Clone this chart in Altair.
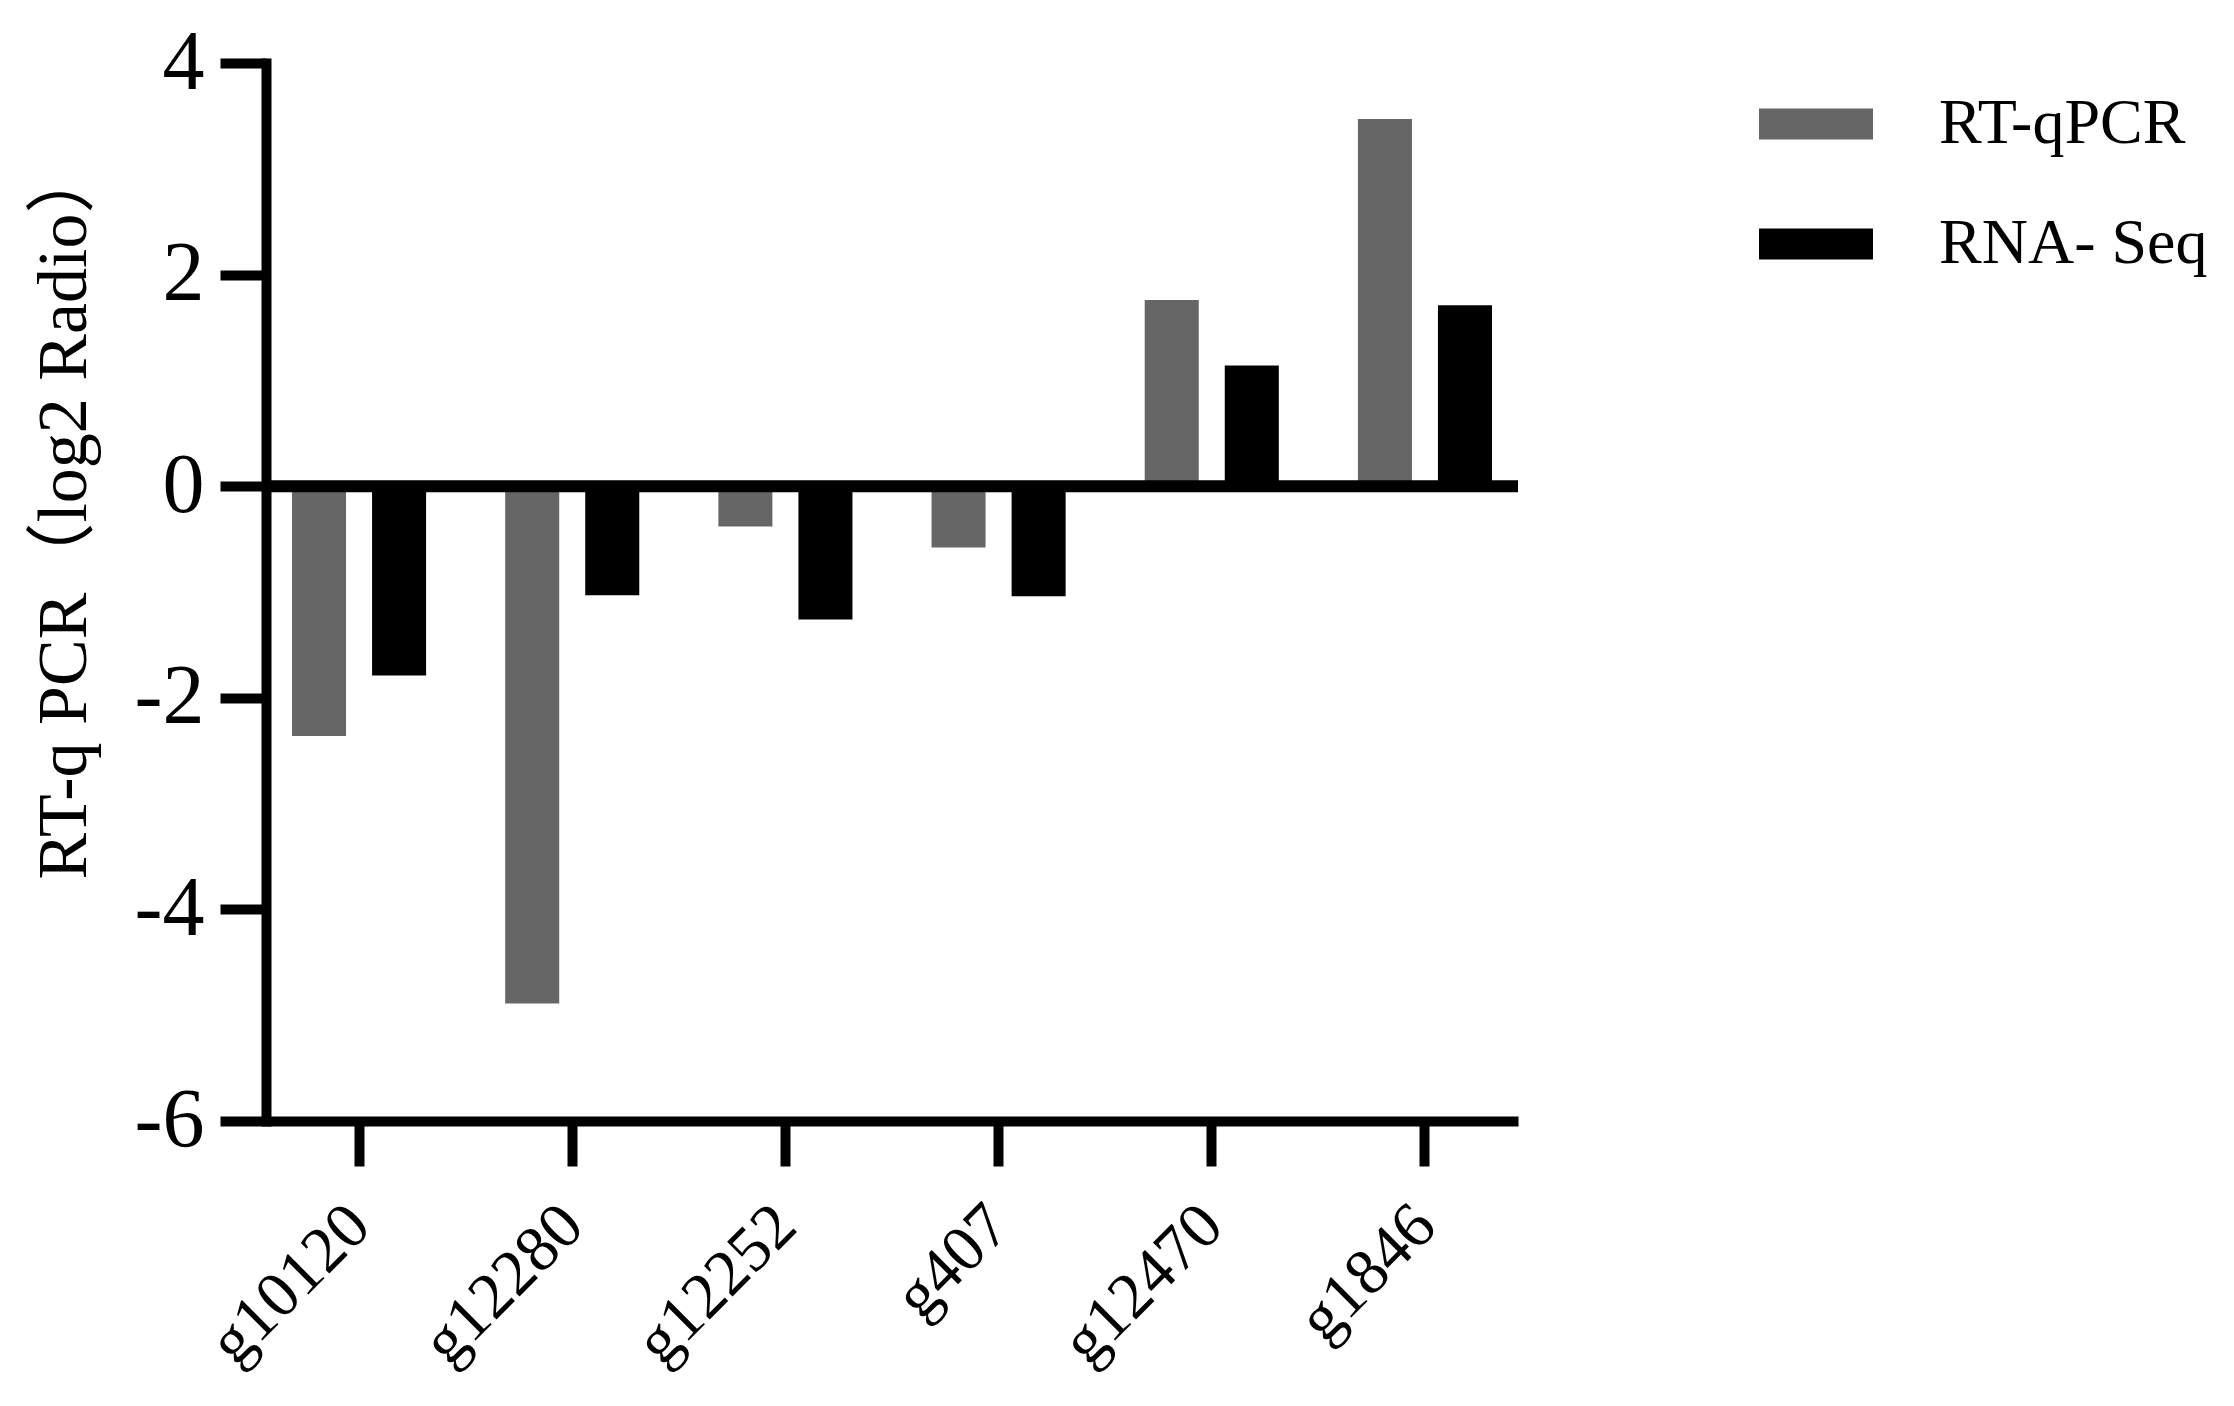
import altair as alt
import pandas as pd

genes = ["g10120", "g12280", "g12252", "g407", "g12470", "g1846"]
series = ["RT-qPCR", "RNA- Seq"]
rt_qpcr = [-2.36, -4.89, -0.38, -0.58, 1.76, 3.47]
rna_seq = [-1.79, -1.03, -1.26, -1.04, 1.14, 1.71]
y_ticks = [-6, -4, -2, 0, 2, 4]
colors = ["#666666", "#000000"]

rows = []
for g, a, b in zip(genes, rt_qpcr, rna_seq):
    rows.append({"gene": g, "series": series[0], "value": a})
    rows.append({"gene": g, "series": series[1], "value": b})
df = pd.DataFrame(rows)

FONT = "Liberation Serif"

bars = alt.Chart(df).mark_bar(strokeWidth=0).encode(
    x=alt.X(
        "gene:N",
        sort=genes,
        title=None,
        scale=alt.Scale(paddingInner=0.371, paddingOuter=0.122),
        axis=alt.Axis(
            labelAngle=-45,
            labelAlign="right",
            labelBaseline="middle",
            labelFont=FONT,
            labelFontSize=65,
            labelColor="black",
            labelPadding=49,
            labelLimit=1000,
            tickSize=45,
            tickWidth=10,
            tickColor="black",
            domainWidth=10,
            domainColor="black",
            domainCap="butt",
            grid=False,
        ),
    ),
    xOffset=alt.XOffset(
        "series:N", sort=series, scale=alt.Scale(paddingInner=0.325, paddingOuter=0)
    ),
    y=alt.Y(
        "value:Q",
        scale=alt.Scale(domain=[-6, 4], nice=False),
        axis=alt.Axis(
            values=y_ticks,
            labelExpr="'' + datum.value",
            title="RT-q PCR（log2 Radio）",
            titleFont="Liberation Serif, Noto Sans CJK SC",
            titleFontSize=70,
            titleFontWeight="normal",
            titleColor="black",
            titleAngle=-90,
            titleX=-181,
            titleY=448,
            titleAlign="center",
            titleBaseline="alphabetic",
            labelFont=FONT,
            labelFontSize=84,
            labelColor="black",
            labelPadding=16,
            tickSize=46,
            tickWidth=10,
            tickColor="black",
            domainWidth=10,
            domainColor="black",
            domainCap="square",
            grid=False,
        ),
    ),
    color=alt.Color(
        "series:N",
        sort=series,
        scale=alt.Scale(domain=series, range=colors),
        legend=alt.Legend(
            title=None,
            orient="none",
            legendX=1493,
            legendY=4,
            symbolType="M-1,-0.272L1,-0.272L1,0.272L-1,0.272Z",
            symbolSize=12996,
            symbolStrokeWidth=0,
            labelFont=FONT,
            labelFontSize=64,
            labelColor="black",
            labelOffset=66,
            labelLimit=1000,
            rowPadding=31,
            padding=0,
        ),
    ),
)

zero = alt.Chart(pd.DataFrame({"v": [0]})).mark_rule(color="black", strokeWidth=12).encode(
    y="v:Q"
)

chart = (
    alt.layer(bars, zero)
    .properties(
        width=1252,
        height=1058,
        background="white",
        autosize=alt.AutoSizeParams(type="none"),
        padding={"left": 258, "top": 55, "right": 700, "bottom": 270},
    )
    .configure_view(strokeWidth=0, stroke="transparent")
)

chart.save("out.html", embed_options={"renderer": "svg", "actions": False})
